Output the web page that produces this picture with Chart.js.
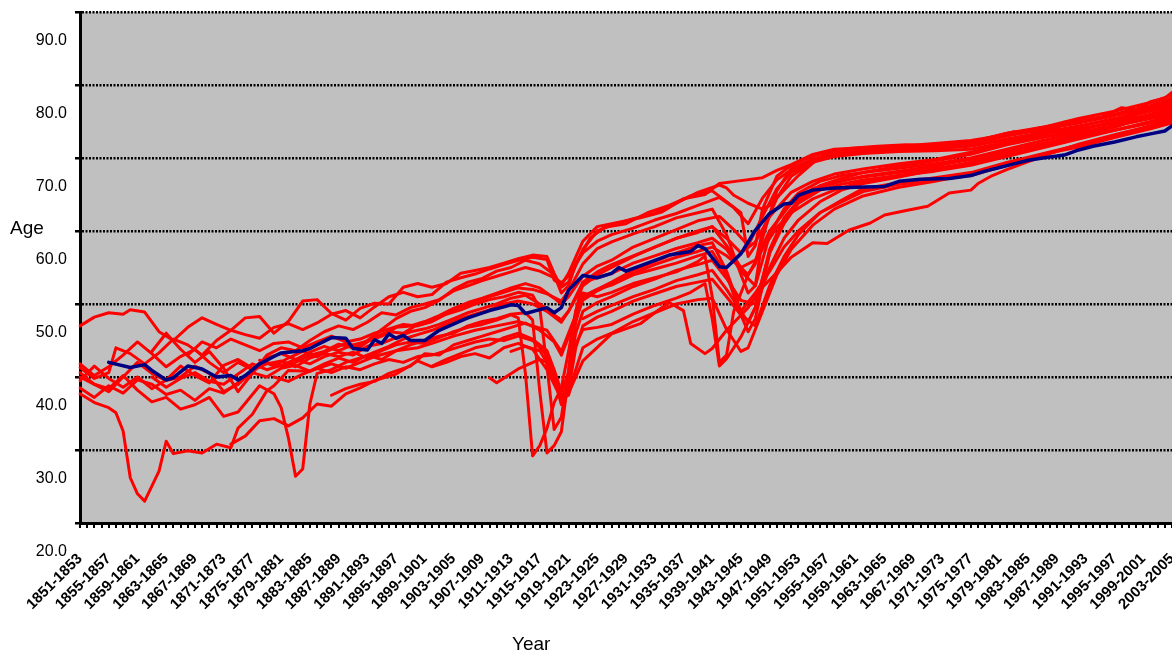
<!DOCTYPE html>
<html lang="en">
<head>
<meta charset="UTF-8">
<script src="https://cdn.jsdelivr.net/npm/chart.js"></script>
<title>Age by year</title>
<style>
    body { margin: 0; background: #fff; }
    #wrap { position: relative; width: 1172px; height: 652px; font-family: "Liberation Sans", Arial, sans-serif; }
    .axis-title { position: absolute; font-size: 19px; line-height: 19px; color: #000; }
</style>
</head>
<body>
<div id="wrap">
    <canvas id="myChart" width="1172" height="652"></canvas>
    <div class="axis-title" style="left:10px; top:218px;">Age</div>
    <div class="axis-title" style="left:512px; top:634px;">Year</div>
</div>

<script>
    // categories: 3-year periods, one per start year
    const firstYear = 1851;
    const lastYear = 2003;
    const startYears = [];
    for (let y = firstYear; y <= lastYear; y++) startYears.push(y);
    const periods = startYears.map(y => y + '-' + (y + 2));

    // y gridlines and the labels the picture prints beside them
    const yGridValues = [24, 34, 44, 54, 64, 74, 84, 94];
    const yTickLabels = ['20.0', '30.0', '40.0', '50.0', '60.0', '70.0', '80.0', '90.0'];

    // values, [start year, age]
    const seriesBlue = [[1855,46.0],[1858,45.3],[1860,45.7],[1861,44.9],[1863,43.6],[1864,43.9],[1866,45.5],[1868,45.1],[1870,44.0],[1872,44.2],[1873,43.6],[1874,44.2],[1876,45.8],[1878,46.8],[1879,47.3],[1880,47.4],[1882,47.6],[1883,47.9],[1886,49.4],[1888,49.3],[1889,47.9],[1891,47.7],[1892,49.1],[1893,48.6],[1894,49.9],[1895,49.3],[1896,49.7],[1897,49.0],[1899,49.0],[1901,50.4],[1904,51.7],[1905,52.1],[1908,53.1],[1910,53.6],[1911,53.9],[1912,53.8],[1913,52.7],[1916,53.5],[1917,52.8],[1918,53.5],[1919,55.9],[1921,57.9],[1923,57.6],[1925,58.2],[1926,59.0],[1927,58.5],[1930,59.6],[1933,60.7],[1936,61.2],[1937,62.0],[1938,61.6],[1940,59.1],[1941,59.0],[1943,60.9],[1945,64.1],[1947,66.4],[1949,67.7],[1950,67.8],[1951,68.9],[1953,69.6],[1956,69.9],[1959,70.0],[1963,70.1],[1965,70.8],[1968,71.1],[1972,71.2],[1975,71.6],[1977,72.2],[1979,72.7],[1981,73.2],[1983,73.7],[1985,74.0],[1988,74.4],[1990,75.1],[1992,75.6],[1995,76.2],[1998,76.9],[2000,77.3],[2002,77.7],[2003,78.4]];

    const seriesRed01 = [[1851,51.0],[1853,52.2],[1855,52.8],[1857,52.6],[1858,53.2],[1860,52.9],[1862,50.2],[1864,49.0],[1866,50.8],[1868,52.1],[1870,51.2],[1872,50.4],[1874,52.1],[1876,52.3],[1878,50.0],[1880,51.6],[1882,54.4],[1884,54.6],[1886,52.7],[1888,51.8],[1890,53.4],[1892,54.1],[1894,54.0],[1896,56.3],[1898,56.8],[1900,56.3],[1902,56.8],[1904,58.2],[1906,58.6],[1908,59.0],[1910,59.6],[1912,60.2],[1914,60.7],[1916,60.5],[1917,58.2],[1918,56.3],[1919,57.0],[1921,61.5],[1923,64.0],[1925,64.8],[1928,65.7],[1931,66.4],[1934,67.8],[1937,69.3],[1940,70.3],[1941,69.9],[1942,68.9],[1944,67.8],[1946,67.0],[1947,67.5],[1949,69.6],[1951,71.6],[1953,73.3],[1955,74.7],[1958,75.3],[1962,75.6],[1966,75.8],[1970,75.7],[1974,75.9],[1978,76.9],[1981,77.6],[1984,77.6],[1987,78.1],[1988,78.9],[1990,79.2],[1993,79.5],[1996,80.9],[1998,80.6],[2000,81.7],[2002,82.2],[2003,83.0]];
    const seriesRed02 = [[1851,45.3],[1853,43.8],[1855,44.6],[1856,48.0],[1858,47.2],[1860,45.8],[1862,47.3],[1864,49.2],[1866,48.4],[1868,47.0],[1870,49.0],[1872,50.4],[1874,49.8],[1876,49.3],[1878,50.8],[1880,51.3],[1882,50.5],[1884,51.4],[1886,52.6],[1888,53.1],[1890,52.1],[1892,53.6],[1894,55.0],[1896,55.6],[1898,55.0],[1900,55.3],[1902,57.0],[1904,57.6],[1906,58.1],[1908,58.8],[1910,59.4],[1912,60.0],[1914,60.4],[1916,60.1],[1917,57.3],[1918,56.6],[1919,58.2],[1921,62.6],[1923,64.6],[1926,65.2],[1929,65.8],[1932,66.6],[1935,68.4],[1938,69.0],[1940,70.5],[1943,70.9],[1946,71.3],[1948,72.3],[1950,73.1],[1953,74.5],[1956,75.2],[1960,75.4],[1965,75.6],[1970,76.0],[1975,76.4],[1980,77.2],[1985,78.2],[1990,79.4],[1995,80.4],[2000,81.6],[2003,82.6]];
    const seriesRed03 = [[1851,44.6],[1853,43.0],[1855,42.0],[1857,44.0],[1859,46.0],[1861,44.5],[1863,43.5],[1865,44.0],[1867,45.5],[1869,44.5],[1871,42.0],[1873,43.0],[1875,44.8],[1877,46.0],[1879,45.5],[1881,46.0],[1883,47.0],[1885,47.5],[1887,48.5],[1889,48.0],[1891,49.0],[1893,50.5],[1895,52.0],[1897,53.0],[1899,53.5],[1901,54.5],[1903,56.0],[1905,57.0],[1907,57.5],[1909,58.5],[1911,59.0],[1913,60.0],[1915,59.5],[1917,58.0],[1918,55.5],[1919,56.5],[1920,59.5],[1922,63.0],[1924,64.5],[1927,65.0],[1930,66.5],[1933,67.5],[1936,68.8],[1939,69.5],[1941,68.0],[1943,66.5],[1944,60.5],[1945,62.0],[1946,67.0],[1948,71.5],[1950,73.0],[1953,74.3],[1956,75.0],[1960,75.3],[1965,75.5],[1970,75.3],[1975,75.7],[1980,76.5],[1985,77.3],[1990,78.0],[1995,78.8],[2000,80.0],[2003,81.0]];
    const seriesRed04 = [[1861,47.5],[1863,50.0],[1865,47.8],[1867,46.0],[1869,47.5],[1871,45.2],[1873,42.0],[1875,44.5],[1877,47.0],[1879,48.0],[1881,47.6],[1883,49.0],[1885,50.2],[1887,51.0],[1889,50.5],[1891,51.5],[1893,52.8],[1895,52.5],[1897,53.5],[1899,54.0],[1901,54.6],[1903,55.8],[1905,56.5],[1907,57.2],[1909,57.8],[1911,58.4],[1913,59.0],[1915,58.5],[1917,57.6],[1918,56.9],[1919,57.8],[1921,61.0],[1923,62.6],[1925,63.5],[1928,64.4],[1931,65.5],[1934,66.4],[1937,67.5],[1940,68.6],[1942,67.2],[1944,65.0],[1946,68.5],[1948,71.0],[1950,72.4],[1953,73.9],[1956,74.6],[1960,75.0],[1965,75.2],[1970,75.3],[1975,75.6],[1980,76.6],[1985,77.5],[1990,78.4],[1995,79.3],[2000,80.4],[2003,81.3]];
    const seriesRed05 = [[1876,46.3],[1878,45.5],[1880,46.6],[1882,47.5],[1884,46.8],[1886,47.8],[1888,48.6],[1890,48.1],[1892,49.5],[1894,50.2],[1896,50.0],[1898,51.2],[1900,51.6],[1902,52.8],[1904,53.6],[1906,54.3],[1908,55.0],[1910,55.6],[1912,56.2],[1914,56.0],[1916,55.4],[1918,54.4],[1919,55.8],[1921,59.5],[1923,61.6],[1925,62.5],[1928,63.6],[1931,64.6],[1934,65.8],[1937,66.5],[1939,67.0],[1941,63.5],[1943,58.0],[1944,55.5],[1945,56.5],[1946,63.0],[1948,69.5],[1950,72.6],[1953,73.8],[1956,74.6],[1960,74.9],[1965,75.2],[1970,75.5],[1975,75.9],[1980,77.0],[1985,77.9],[1990,78.8],[1995,79.8],[2000,81.0],[2003,82.0]];
    const seriesRed06 = [[1851,43.5],[1853,45.5],[1855,43.8],[1857,42.6],[1859,44.0],[1861,42.4],[1863,43.6],[1865,45.5],[1867,44.2],[1869,43.2],[1871,45.6],[1873,46.4],[1875,45.2],[1877,46.6],[1879,47.2],[1881,46.4],[1883,47.4],[1885,48.2],[1887,47.6],[1889,48.4],[1891,48.9],[1893,49.6],[1895,50.8],[1897,51.0],[1899,51.6],[1901,52.4],[1903,53.4],[1905,54.2],[1907,54.8],[1909,55.5],[1911,56.2],[1913,56.8],[1915,56.2],[1917,54.8],[1918,54.0],[1919,55.0],[1921,57.8],[1923,59.2],[1925,60.0],[1928,61.8],[1931,63.0],[1934,64.2],[1937,65.4],[1940,66.0],[1942,64.2],[1944,62.0],[1946,66.0],[1948,69.8],[1950,72.0],[1953,73.6],[1956,74.4],[1960,74.8],[1965,75.3],[1970,75.7],[1975,76.2],[1980,77.4],[1985,78.2],[1990,79.0],[1995,80.0],[2000,81.2],[2003,82.2]];
    const seriesRed07 = [[1861,44.0],[1863,42.6],[1865,43.8],[1867,44.6],[1869,43.4],[1871,43.0],[1873,44.4],[1875,45.8],[1877,45.0],[1879,45.6],[1881,46.4],[1883,45.8],[1885,46.8],[1887,47.4],[1889,47.0],[1891,48.2],[1893,48.6],[1895,49.4],[1897,50.2],[1899,50.6],[1901,51.2],[1903,52.0],[1905,52.8],[1907,53.4],[1909,54.0],[1911,54.8],[1913,55.2],[1915,54.0],[1917,52.5],[1918,51.8],[1919,53.0],[1921,56.5],[1923,58.0],[1925,59.0],[1928,60.5],[1931,61.8],[1934,63.0],[1937,64.0],[1939,64.6],[1941,62.0],[1943,59.0],[1944,58.0],[1945,59.5],[1946,64.0],[1948,68.5],[1950,71.5],[1953,73.4],[1956,74.2],[1960,74.6],[1965,74.9],[1970,75.0],[1975,75.2],[1980,76.2],[1985,76.9],[1990,77.5],[1995,78.5],[2000,79.6],[2003,80.5]];
    const seriesRed08 = [[1851,45.8],[1853,44.2],[1855,45.4],[1857,47.0],[1859,48.8],[1861,47.2],[1863,45.4],[1865,46.8],[1867,47.8],[1869,46.0],[1871,44.6],[1873,46.0],[1875,45.0],[1877,45.8],[1879,46.2],[1881,45.4],[1883,46.6],[1885,47.2],[1887,46.8],[1889,47.4],[1891,46.6],[1893,47.6],[1895,48.4],[1897,48.8],[1899,48.6],[1901,49.4],[1903,50.2],[1905,50.8],[1907,51.2],[1909,51.8],[1911,52.5],[1912,52.1],[1913,44.5],[1914,33.2],[1915,34.6],[1916,37.0],[1917,40.5],[1918,42.5],[1919,47.5],[1920,53.0],[1921,55.5],[1923,55.0],[1925,55.6],[1928,56.8],[1931,57.6],[1934,58.4],[1937,59.8],[1938,60.6],[1939,55.0],[1940,46.0],[1941,47.0],[1942,53.0],[1944,58.0],[1946,61.5],[1948,64.5],[1950,66.5],[1953,68.4],[1956,69.6],[1960,70.8],[1965,71.6],[1970,72.4],[1975,73.4],[1980,74.6],[1985,75.8],[1990,77.2],[1995,78.4],[2000,79.5],[2003,80.3]];
    const seriesRed09 = [[1851,42.5],[1853,41.2],[1855,42.8],[1857,41.8],[1859,43.6],[1861,43.0],[1863,41.6],[1865,42.2],[1867,40.8],[1869,42.4],[1871,41.8],[1873,43.2],[1875,44.6],[1877,44.0],[1879,45.2],[1881,45.6],[1883,44.8],[1885,45.8],[1887,46.6],[1889,46.0],[1891,47.0],[1893,46.4],[1895,47.6],[1897,48.4],[1899,49.0],[1901,49.6],[1903,50.0],[1905,51.0],[1907,51.6],[1909,52.0],[1911,52.6],[1913,52.8],[1914,51.8],[1915,42.0],[1916,33.6],[1917,34.6],[1918,36.5],[1919,44.0],[1920,51.5],[1921,55.0],[1923,56.0],[1925,56.6],[1928,58.0],[1931,58.8],[1934,59.6],[1937,60.6],[1939,61.2],[1941,58.0],[1943,52.5],[1944,50.2],[1945,52.0],[1947,61.0],[1949,65.5],[1951,68.0],[1954,70.0],[1957,70.8],[1960,71.5],[1965,72.2],[1970,72.9],[1975,73.8],[1980,74.9],[1985,76.0],[1990,77.0],[1995,78.2],[2000,79.8],[2003,80.8]];
    const seriesRed10 = [[1866,47.0],[1868,48.8],[1870,48.0],[1872,49.2],[1874,48.4],[1876,47.6],[1878,48.6],[1880,48.8],[1882,48.0],[1884,48.8],[1886,49.6],[1888,48.8],[1890,49.2],[1892,50.0],[1894,50.6],[1896,51.2],[1898,51.0],[1900,51.6],[1902,52.6],[1904,53.2],[1906,54.0],[1908,54.6],[1910,55.0],[1912,55.6],[1914,55.2],[1915,53.4],[1916,45.5],[1917,36.8],[1918,38.5],[1919,45.0],[1920,53.0],[1921,57.0],[1923,57.6],[1925,58.2],[1928,59.6],[1931,60.6],[1934,61.6],[1937,62.4],[1939,63.0],[1941,61.5],[1943,58.5],[1945,56.5],[1947,63.5],[1949,67.0],[1951,69.2],[1954,70.8],[1957,71.6],[1960,72.0],[1965,72.9],[1970,73.6],[1975,74.5],[1980,75.8],[1985,76.8],[1990,77.8],[1995,79.0],[2000,80.5],[2003,81.5]];
    const seriesRed11 = [[1872,34.8],[1874,35.9],[1876,38.0],[1878,38.3],[1880,37.3],[1882,38.4],[1884,40.3],[1886,40.0],[1888,41.7],[1890,42.5],[1892,43.5],[1895,44.4],[1898,46.2],[1900,45.4],[1902,46.0],[1904,46.8],[1906,47.2],[1908,46.6],[1910,48.0],[1912,48.6],[1914,47.8],[1916,45.0],[1917,43.0],[1918,41.0],[1919,43.5],[1920,48.5],[1921,50.5],[1923,50.8],[1925,51.2],[1928,52.6],[1931,53.8],[1934,54.8],[1936,55.6],[1938,56.8],[1939,52.0],[1940,45.5],[1941,46.5],[1943,49.5],[1945,53.5],[1947,59.0],[1949,63.0],[1951,65.5],[1954,68.0],[1957,69.6],[1960,70.5],[1965,71.4],[1970,72.4],[1975,73.4],[1980,74.8],[1985,76.0],[1990,77.0],[1995,78.4],[2000,79.6],[2003,80.5]];
    const seriesRed12 = [[1851,44.0],[1853,43.0],[1855,42.4],[1857,44.2],[1859,42.2],[1861,40.6],[1863,41.2],[1865,39.6],[1867,40.2],[1869,41.2],[1871,38.6],[1873,39.2],[1875,41.6],[1876,42.8],[1878,41.7],[1879,39.8],[1880,35.7],[1881,30.4],[1882,31.4],[1883,40.3],[1884,44.5],[1886,45.0],[1888,46.0],[1890,46.6],[1892,47.4],[1894,48.2],[1896,49.2],[1898,49.8],[1900,50.4],[1902,51.2],[1904,52.0],[1906,52.6],[1908,53.2],[1910,54.0],[1912,54.4],[1914,54.0],[1916,53.0],[1918,51.5],[1919,53.0],[1921,57.0],[1923,58.4],[1925,59.4],[1928,60.6],[1931,61.8],[1934,63.0],[1937,63.8],[1939,64.6],[1941,63.0],[1943,61.0],[1945,62.5],[1947,66.0],[1950,69.3],[1953,70.8],[1956,71.8],[1960,72.5],[1965,73.2],[1970,73.8],[1975,74.8],[1980,76.0],[1985,77.2],[1990,78.3],[1995,79.4],[2000,80.8],[2003,81.7]];
    const seriesRed13 = [[1851,41.7],[1853,40.5],[1855,39.8],[1856,39.1],[1857,36.6],[1858,30.2],[1859,28.0],[1860,27.0],[1862,31.1],[1863,35.2],[1864,33.5],[1866,33.9],[1868,33.6],[1870,34.8],[1872,34.3],[1873,37.0],[1875,38.9],[1877,42.1],[1878,42.8],[1880,44.9],[1883,44.8],[1886,45.8],[1888,45.2],[1890,46.0],[1892,46.8],[1895,47.6],[1898,48.0],[1900,48.6],[1903,49.6],[1906,50.4],[1909,51.0],[1912,51.6],[1914,51.0],[1916,50.4],[1918,47.5],[1919,50.0],[1921,55.0],[1923,56.0],[1925,57.0],[1928,58.6],[1931,59.8],[1934,61.0],[1937,62.0],[1939,62.4],[1941,58.5],[1943,53.0],[1944,51.5],[1945,53.5],[1947,61.5],[1949,65.8],[1951,68.2],[1954,70.2],[1957,71.2],[1960,72.0],[1965,72.6],[1970,73.2],[1975,74.0],[1980,75.2],[1985,76.4],[1990,77.4],[1995,78.4],[2000,79.4],[2003,80.0]];
    const seriesRed14 = [[1886,41.5],[1888,42.4],[1890,43.0],[1892,43.4],[1894,44.5],[1897,45.5],[1899,47.2],[1901,47.0],[1903,48.4],[1905,49.0],[1907,49.6],[1909,50.2],[1911,50.8],[1913,51.4],[1915,50.4],[1917,48.8],[1918,47.0],[1919,49.5],[1921,54.5],[1923,55.8],[1925,56.8],[1928,58.2],[1931,59.4],[1934,60.4],[1937,61.2],[1939,61.8],[1941,60.6],[1943,59.0],[1945,60.0],[1947,64.0],[1950,67.8],[1953,69.8],[1956,70.8],[1960,71.4],[1965,72.0],[1970,72.6],[1975,73.2],[1980,74.4],[1985,75.6],[1990,76.8],[1995,77.8],[2000,78.8],[2003,79.5]];
    const seriesRed15 = [[1900,45.5],[1902,46.4],[1904,47.2],[1906,48.0],[1908,48.4],[1910,49.4],[1912,50.0],[1914,49.2],[1916,47.6],[1917,45.0],[1918,42.0],[1919,44.5],[1920,50.0],[1921,53.0],[1923,54.2],[1925,55.0],[1928,56.4],[1931,57.4],[1934,58.6],[1937,59.4],[1939,60.0],[1941,57.5],[1943,54.5],[1945,54.0],[1947,61.0],[1949,65.0],[1951,67.8],[1954,69.6],[1957,70.4],[1960,71.0],[1965,71.6],[1970,72.2],[1975,73.0],[1980,74.2],[1985,75.4],[1990,76.6],[1995,77.8],[2000,79.0],[2003,79.8]];
    const seriesRed16 = [[1921,52.0],[1923,53.0],[1925,53.8],[1928,55.0],[1931,56.0],[1934,57.2],[1937,58.0],[1939,58.6],[1941,56.0],[1943,53.0],[1945,55.5],[1947,58.5],[1949,61.8],[1951,64.0],[1954,66.5],[1957,68.0],[1960,69.4],[1965,70.4],[1970,71.0],[1975,71.6],[1980,73.0],[1985,74.4],[1990,75.8],[1995,77.0],[2000,78.4],[2003,79.3]];
    const seriesRed17 = [[1878,44.0],[1880,43.4],[1882,44.4],[1884,45.2],[1886,44.6],[1888,45.4],[1890,45.0],[1892,45.8],[1894,46.4],[1896,46.0],[1898,46.8],[1900,47.0],[1902,47.6],[1904,48.2],[1906,48.8],[1908,49.2],[1910,49.0],[1912,49.6],[1914,49.0],[1916,47.0],[1917,44.0],[1918,40.2],[1919,42.0],[1920,48.0],[1921,51.0],[1923,52.2],[1925,53.0],[1928,54.4],[1931,55.4],[1934,56.4],[1937,57.0],[1939,57.4],[1941,55.0],[1943,52.5],[1945,51.0],[1947,56.5],[1949,60.5],[1951,63.5],[1954,66.5],[1957,68.2],[1960,69.8],[1965,70.6],[1970,71.3],[1975,72.0],[1980,73.4],[1985,74.6],[1990,75.8],[1995,77.0],[2000,78.2],[2003,79.0]];
    const seriesRed18 = [[1911,47.5],[1913,48.2],[1915,47.6],[1916,46.0],[1917,43.5],[1918,41.0],[1919,41.5],[1920,45.0],[1921,48.0],[1923,49.2],[1925,50.0],[1928,51.6],[1931,52.8],[1934,54.0],[1937,54.6],[1939,54.8],[1941,50.5],[1943,47.5],[1944,48.0],[1946,53.0],[1948,58.0],[1950,61.5],[1953,64.8],[1956,67.0],[1960,68.8],[1965,70.0],[1970,70.8],[1975,71.8],[1980,73.2],[1985,74.5],[1990,75.5],[1995,76.8],[2000,78.0],[2003,78.8]];
    const seriesRed19 = [[1908,43.9],[1909,43.2],[1912,45.1],[1915,46.4],[1916,46.0],[1917,44.0],[1918,41.5],[1919,41.8],[1921,46.2],[1925,49.9],[1929,51.3],[1931,52.8],[1933,54.2],[1935,53.1],[1936,48.6],[1938,47.2],[1939,47.9],[1941,50.4],[1944,53.5],[1946,56.3],[1948,58.3],[1950,60.4],[1953,62.4],[1955,62.3],[1958,64.1],[1961,65.1],[1963,66.2],[1966,66.8],[1969,67.4],[1972,69.2],[1975,69.6],[1976,70.5],[1978,71.6],[1980,72.4],[1983,73.5],[1986,74.6],[1990,75.9],[1995,77.2],[2000,78.4],[2003,79.3]];

    const redSeries = [seriesRed01, seriesRed02, seriesRed03, seriesRed04, seriesRed05, seriesRed06, seriesRed07,
        seriesRed08, seriesRed09, seriesRed10, seriesRed11, seriesRed12, seriesRed13, seriesRed14, seriesRed15,
        seriesRed16, seriesRed17, seriesRed18, seriesRed19];

    function toData(pairs) {
        const arr = new Array(periods.length).fill(null);
        for (const [yr, v] of pairs) {
            arr[yr - firstYear] = v;
        }
        return arr;
    }

    const datasets = [{
        label: 'Series 0',
        data: toData(seriesBlue),
        borderColor: '#000080',
        borderWidth: 3.5,
    }];
    redSeries.forEach((s, i) => {
        datasets.push({
            label: 'Series ' + (i + 1),
            data: toData(s),
            borderColor: '#ff0000',
            borderWidth: 3,
        });
    });

    const plotBackground = {
        id: 'plotBackground',
        beforeDraw(chart) {
            const { ctx, chartArea: a } = chart;
            ctx.save();
            ctx.fillStyle = '#c0c0c0';
            ctx.fillRect(a.left, a.top, a.right - a.left, a.bottom - a.top);
            ctx.restore();
        }
    };

    const config = {
        type: 'line',
        data: { labels: periods, datasets: datasets },
        plugins: [plotBackground],
        options: {
            responsive: false,
            animation: false,
            events: [],
            spanGaps: true,
            layout: { padding: { top: 12, right: 0, bottom: 0, left: 0 } },
            elements: {
                point: { radius: 0 },
                line: { tension: 0, borderJoinStyle: 'round', borderCapStyle: 'round' }
            },
            plugins: {
                legend: { display: false },
                tooltip: { enabled: false }
            },
            scales: {
                x: {
                    type: 'category',
                    offset: false,
                    grid: {
                        display: true, drawOnChartArea: false, drawTicks: true, offset: false,
                        tickLength: 5, tickColor: '#000', tickWidth: 2, lineWidth: 2, color: '#000'
                    },
                    border: { display: true, color: '#000', width: 3 },
                    ticks: {
                        autoSkip: false, maxRotation: 45, minRotation: 45, padding: 22, color: '#000',
                        font: { family: '"Liberation Sans", Arial, sans-serif', size: 15, weight: 'bold' },
                        callback: function (value, index) {
                            return index % 4 === 0 ? this.getLabelForValue(value) : '';
                        }
                    },
                    afterFit(scale) {
                        scale.height = 129;
                        scale.paddingLeft = 0;
                        scale.paddingRight = 0;
                    }
                },
                y: {
                    min: 24,
                    max: 94,
                    afterBuildTicks(scale) {
                        scale.ticks = yGridValues.map(v => ({ value: v }));
                    },
                    grid: {
                        color: '#000', lineWidth: 2.5, tickLength: 5, tickColor: '#000', tickWidth: 2.5, tickBorderDash: []
                    },
                    border: { display: true, color: '#000', width: 3, dash: [2, 1.5] },
                    ticks: {
                        labelOffset: 29, padding: 8, color: '#000',
                        font: { family: '"Liberation Sans", Arial, sans-serif', size: 16 },
                        callback: function (value) {
                            return yTickLabels[yGridValues.indexOf(value)];
                        }
                    },
                    afterFit(scale) {
                        scale.width = 80;
                        scale.paddingTop = 0;
                        scale.paddingBottom = 0;
                    }
                }
            }
        }
    };

    const myChart = new Chart(document.getElementById('myChart'), config);
</script>
</body>
</html>
